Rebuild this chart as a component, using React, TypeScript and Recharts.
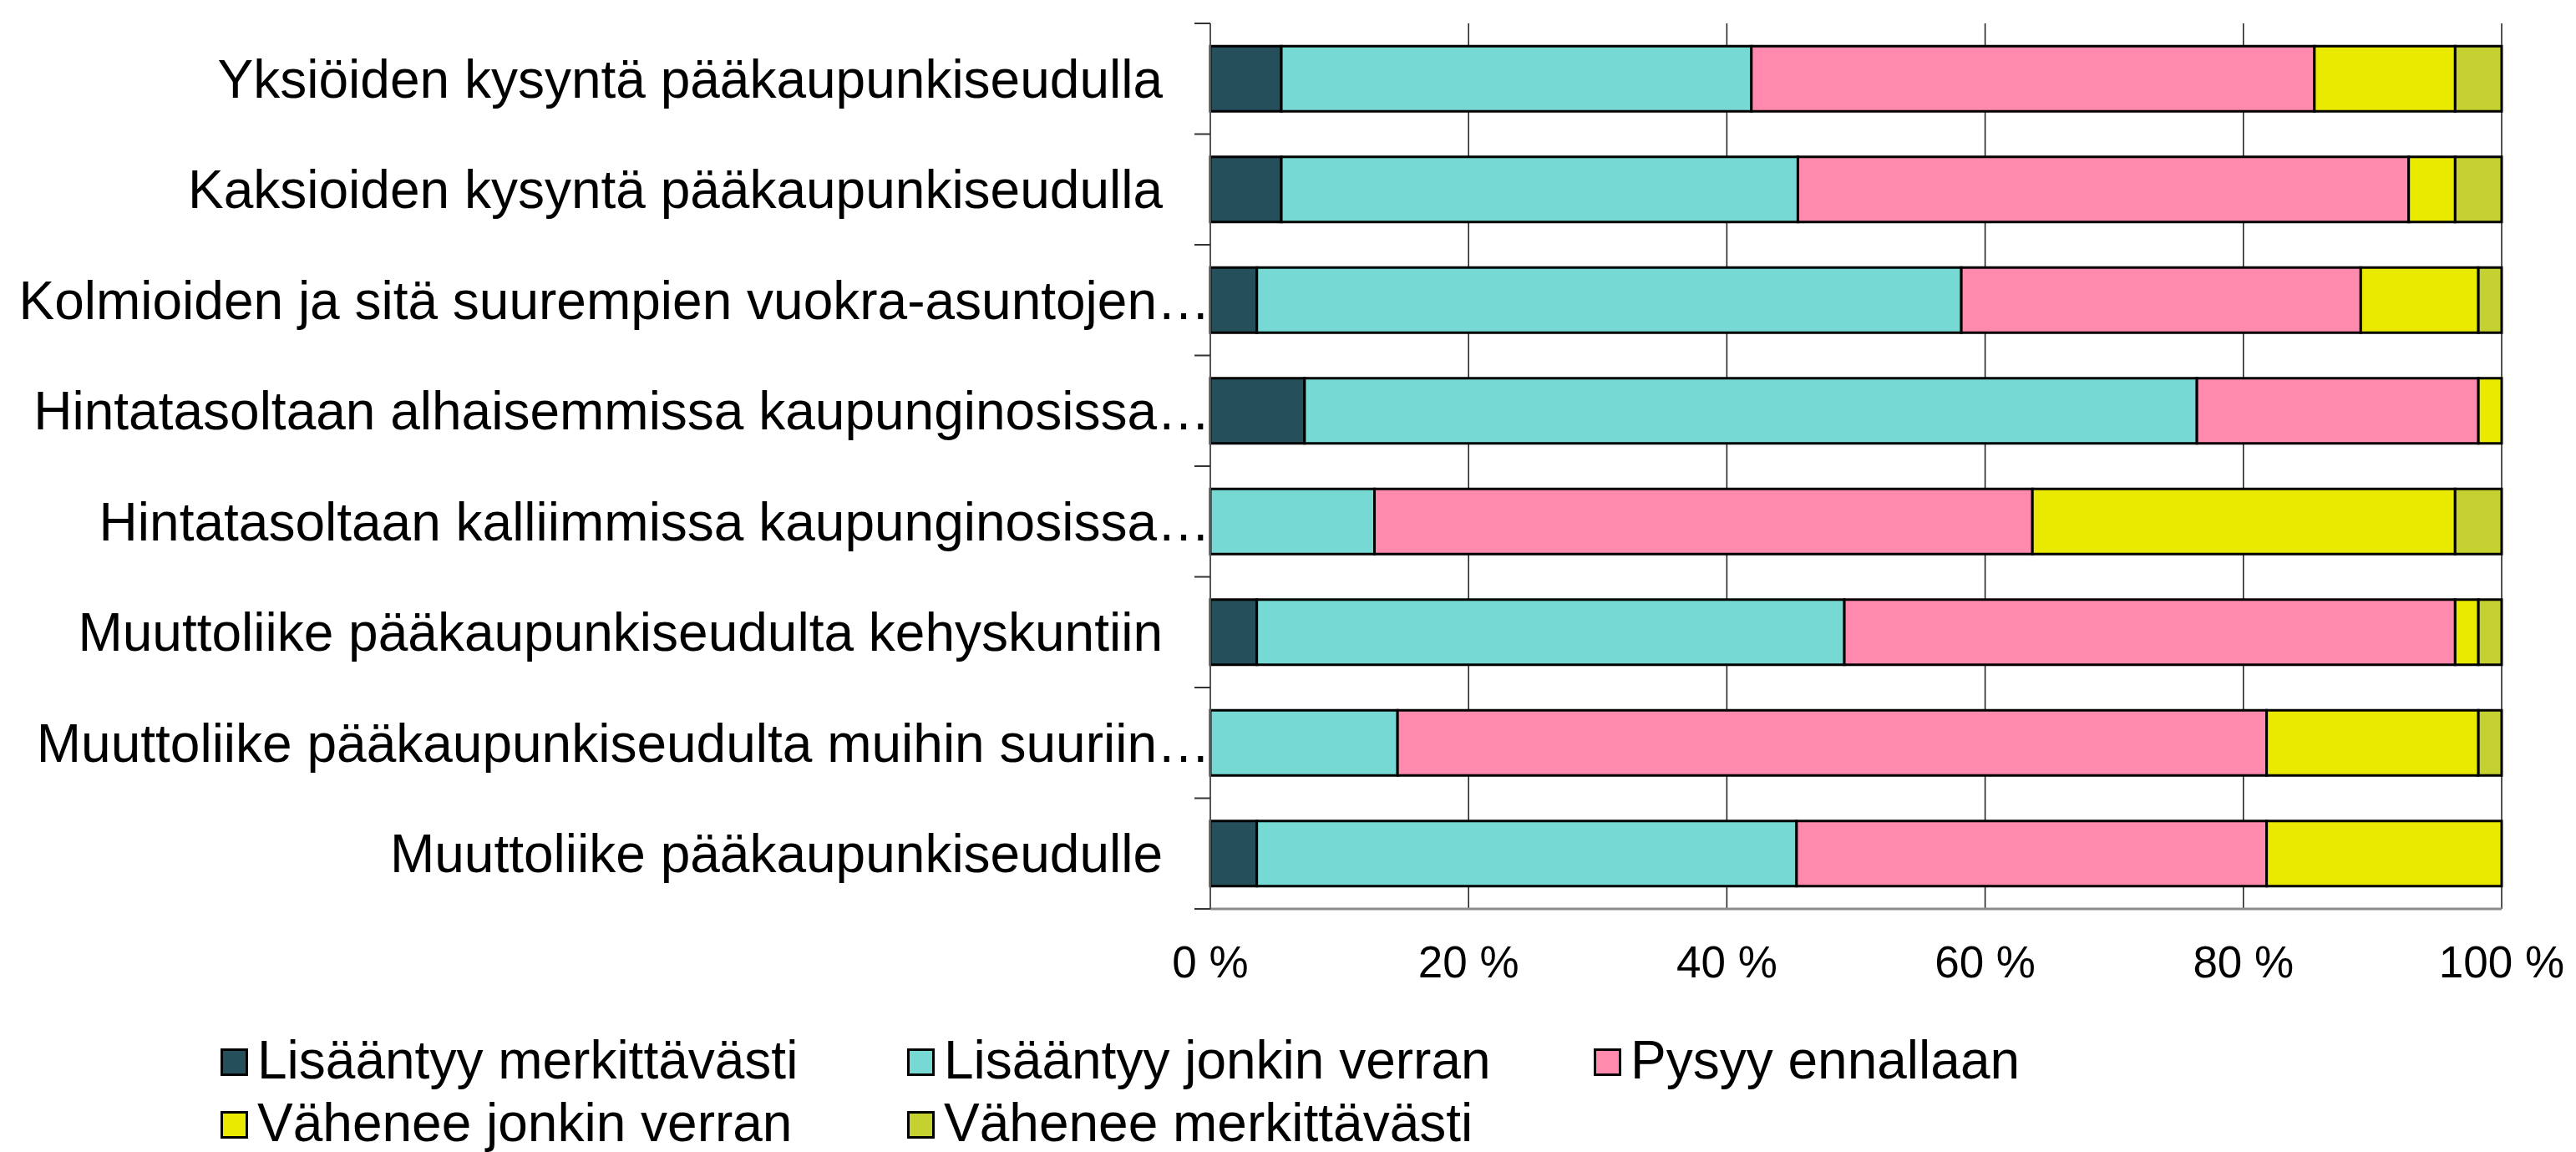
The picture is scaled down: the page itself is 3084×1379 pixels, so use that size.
import { BarChart, Bar, XAxis, YAxis, CartesianGrid, Legend } from "recharts"

const CATEGORIES = [
  "Yksiöiden kysyntä pääkaupunkiseudulla",
  "Kaksioiden kysyntä pääkaupunkiseudulla",
  "Kolmioiden ja sitä suurempien vuokra-asuntojen…",
  "Hintatasoltaan alhaisemmissa kaupunginosissa…",
  "Hintatasoltaan kalliimmissa kaupunginosissa…",
  "Muuttoliike pääkaupunkiseudulta kehyskuntiin",
  "Muuttoliike pääkaupunkiseudulta muihin suuriin…",
  "Muuttoliike pääkaupunkiseudulle",
]

// prosenttiosuudet, rivi kerrallaan samassa järjestyksessä kuin CATEGORIES
const LISAANTYY_MERKITTAVASTI = [5.5, 5.5, 3.6, 7.3, 0, 3.6, 0, 3.6]
const LISAANTYY_JONKIN_VERRAN = [36.4, 40.0, 54.5, 69.1, 12.7, 45.5, 14.5, 41.8]
const PYSYY_ENNALLAAN = [43.6, 47.3, 30.9, 21.8, 50.9, 47.3, 67.3, 36.4]
const VAHENEE_JONKIN_VERRAN = [10.9, 3.6, 9.1, 1.8, 32.7, 1.8, 16.4, 18.2]
const VAHENEE_MERKITTAVASTI = [3.6, 3.6, 1.8, 0, 3.6, 1.8, 1.8, 0]

const X_TICKS = [0, 0.2, 0.4, 0.6, 0.8, 1]

const SERIES = [
  { key: "lm", name: "Lisääntyy merkittävästi", color: "#264F5C", values: LISAANTYY_MERKITTAVASTI },
  { key: "lj", name: "Lisääntyy jonkin verran", color: "#76D9D3", values: LISAANTYY_JONKIN_VERRAN },
  { key: "pe", name: "Pysyy ennallaan", color: "#FF8AAD", values: PYSYY_ENNALLAAN },
  { key: "vj", name: "Vähenee jonkin verran", color: "#EAEA00", values: VAHENEE_JONKIN_VERRAN },
  { key: "vm", name: "Vähenee merkittävästi", color: "#C5D130", values: VAHENEE_MERKITTAVASTI },
]

const data = CATEGORIES.map((label, i) => {
  const row: Record<string, string | number> = { label }
  SERIES.forEach((s) => {
    row[s.key] = s.values[i]
  })
  return row
})

const FONT = "'Liberation Sans', Arial, sans-serif"

const CategoryTick = (props: any) => {
  const { x, y, payload, index } = props
  const text = String(payload.value)
  const half = payload.offset || 0
  // katkaistut otsikot ulottuvat akseliin asti, muut jättävät välin
  const shift = text.endsWith("…") ? 0 : 57
  return (
    <g>
      <line x1={x - 19} x2={x} y1={y - half} y2={y - half} stroke="#333" strokeWidth={2} />
      {index === CATEGORIES.length - 1 && (
        <line x1={x - 19} x2={x} y1={y + half} y2={y + half} stroke="#333" strokeWidth={2} />
      )}
      <text x={x - shift} y={y} dy="0.35em" textAnchor="end" fontSize={64} fontFamily={FONT} fill="#000">
        {text}
      </text>
    </g>
  )
}

const LegendContent = (props: any) => {
  const payload = [...(props.payload || [])].sort(
    (a: any, b: any) =>
      SERIES.findIndex((s) => s.name === a.value) - SERIES.findIndex((s) => s.name === b.value)
  )
  return (
    <div style={{ display: "flex", flexWrap: "wrap", width: 2466, fontFamily: FONT, fontSize: 64, lineHeight: "75px" }}>
      {payload.map((item: any) => (
        <div key={item.value} style={{ width: 822, display: "flex", alignItems: "center", whiteSpace: "nowrap" }}>
          <span
            style={{
              display: "inline-block",
              width: 27,
              height: 27,
              background: item.color,
              border: "3px solid #000",
              marginRight: 11,
              marginTop: 4,
            }}
          />
          <span>{item.value}</span>
        </div>
      ))}
    </div>
  )
}

export default function App() {
  return (
    <div style={{ width: 3084, height: 1379, background: "#fff" }}>
      <style>{`body{margin:0;background:#fff}`}</style>
      <BarChart
        width={3084}
        height={1379}
        data={data}
        layout="vertical"
        stackOffset="expand"
        barCategoryGap="20.5%"
        margin={{ top: 28, right: 89, bottom: 191, left: 0 }}
      >
        <CartesianGrid horizontal={false} stroke="#1a1a1a" strokeWidth={1.5} yAxisId="cat" />
        <XAxis
          type="number"
          domain={[0, 1]}
          ticks={X_TICKS}
          tickFormatter={(v: number) => `${Math.round(v * 100)} %`}
          axisLine={{ stroke: "#8C8C8C", strokeWidth: 3 }}
          tickLine={false}
          tickSize={0}
          tickMargin={44}
          tick={{ fontSize: 53, fontFamily: FONT, fill: "#000" }}
          height={100}
        />
        <XAxis
          xAxisId="top"
          orientation="top"
          type="number"
          domain={[0, 1]}
          tick={false}
          tickLine={false}
          axisLine={{ stroke: "#8C8C8C", strokeWidth: 3 }}
          height={0}
        />
        <YAxis
          yAxisId="cat"
          type="category"
          dataKey="label"
          width={1449}
          axisLine={{ stroke: "#555", strokeWidth: 2 }}
          tickLine={false}
          tickSize={0}
          tickMargin={0}
          interval={0}
          tick={<CategoryTick />}
        />
        <YAxis
          yAxisId="right"
          orientation="right"
          type="number"
          domain={[0, 1]}
          tick={false}
          tickLine={false}
          axisLine={{ stroke: "#8C8C8C", strokeWidth: 3 }}
          width={0}
        />
        <Legend
          layout="horizontal"
          verticalAlign="middle"
          align="center"
          content={<LegendContent />}
          wrapperStyle={{ position: "absolute", top: 1232, left: 264, width: 2466, height: 150 }}
        />
        {SERIES.map((s) => (
          <Bar
            key={s.key}
            dataKey={s.key}
            name={s.name}
            stackId="a"
            yAxisId="cat"
            fill={s.color}
            stroke="#000"
            strokeWidth={3}
            isAnimationActive={false}
          />
        ))}
      </BarChart>
    </div>
  )
}
